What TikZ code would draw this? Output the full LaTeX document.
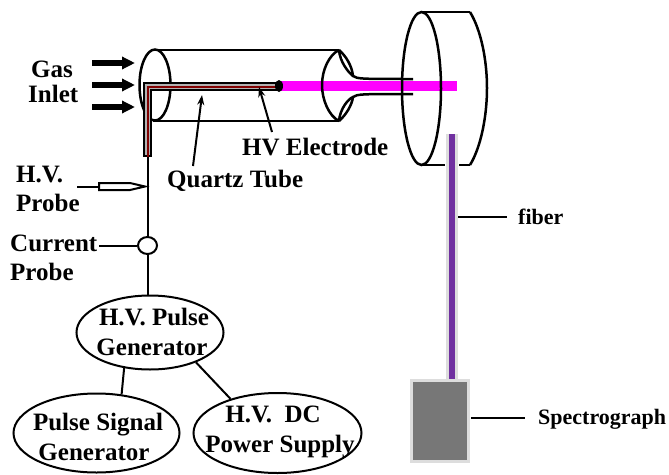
\documentclass[tikz,border=0pt]{standalone}
\usepackage{fontspec}
\setmainfont{Liberation Serif}
\usepackage{xcolor}
\usetikzlibrary{shapes.geometric, arrows, arrows.meta, positioning}
\definecolor{plasma}{HTML}{FF00FF}
\definecolor{fibercore}{HTML}{7030A0}
\definecolor{fiberclad}{HTML}{DDDDDD}
\definecolor{specfill}{HTML}{777777}
\tikzstyle{tag} = [font=\bfseries\fontsize{25}{29}\selectfont, inner sep=0pt, anchor=base west]
\tikzstyle{smalltag} = [font=\bfseries\fontsize{22}{24}\selectfont, inner sep=0pt, anchor=base west]
\tikzstyle{unit} = [ellipse, 
draw=black, 
line width=2pt, 
inner sep=0pt]
\tikzstyle{unittext} = [font=\bfseries\fontsize{25}{29}\selectfont, inner sep=0pt, anchor=base]
\tikzstyle{wire} = [line width=2pt]
\tikzstyle{glass} = [line width=2.5pt]
\tikzstyle{arrow} = [line width=2pt,-{Stealth[length=10pt,width=7pt]}]
\tikzstyle{gasarrow} = [line width=6pt,-{Triangle[length=13pt,width=12pt]}]

\begin{document}
\begin{tikzpicture}[x=1pt, y=-1pt]
        \useasboundingbox (0,0) rectangle (669,474);

        % --- Plasma ---
        \fill [plasma] (280,81) rectangle (457,91);

        % --- Discharge tube ---
        \draw [glass] (155,85) ellipse [x radius=15.5, y radius=35.5];
        \draw [glass] (153,50) -- (339,50);
        \draw [glass] (153,121) -- (339,121);
        \draw [glass] (339,50) .. controls (329,55) and (322,70) .. (322,85) .. controls (322,100) and (329,116) .. (339,121);
        % horn of the tube
        \draw [glass] (339,50) .. controls (346,56) and (352,66) .. (353,76);
        \draw [glass] (339,50) .. controls (340,62) and (348,72) .. (353,76) .. controls (357,79) and (362,79) .. (413,79);
        \draw [glass] (339,121) .. controls (346,115) and (352,105) .. (353,97);
        \draw [glass] (339,121) .. controls (340,109) and (348,99) .. (353,97) .. controls (357,94) and (362,94) .. (413,94);

        % --- Disk ---
        \draw [glass] (421.5,88.5) ellipse [x radius=19.5, y radius=76.5];
        \draw [glass] (421,12) -- (470,12);
        \draw [glass] (422,165) -- (470,165);
        \draw [glass] (470,12) .. controls (481,30) and (487,60) .. (487,88) .. controls (487,116) and (481,147) .. (470,165);

        % --- Fiber ---
        \node (spec) [rectangle, draw=fiberclad, fill=specfill, line width=3pt, minimum width=57pt, minimum height=81pt, inner sep=0pt] at (440,421) {};
        \coordinate (fibertop) at (452,134);
        \draw [white, line width=14pt] (452,160) -- (452,170);
        \draw [fiberclad, line width=12pt] (fibertop) -- (452,382);
        \draw [fibercore, line width=6pt] (fibertop) -- (452,379);

        % --- Electrode ---
        \coordinate (tubetip) at (147.5,157);
        \draw [line width=9.5pt, black, line join=miter] (279,86.5) -- (147.5,86.5) -- (tubetip);
        \draw [line width=5pt, gray!60] (277,86.5) -- (147.5,86.5) -- (147.5,155);
        \draw [line width=2pt, red!50!black] (277,86.5) -- (147.5,86.5) -- (147.5,165);
        \fill [black] (279,86) ellipse [x radius=4, y radius=6];

        % --- Gas ---
        \foreach \y in {63,85,107} {
            \coordinate (gasfrom) at (92,\y);
            \coordinate (gasto) at (135,\y);
            \draw [gasarrow] (gasfrom) -- (gasto);
        }

        % --- Labels ---
        \node (gas) [tag] at (31,77) {Gas};
        \node (inlet) [tag] at (28,102) {Inlet};
        \node (electrode) [tag] at (242,155) {HV Electrode};
        \node (quartz) [tag] at (167,187) {Quartz Tube};
        \node (hv) [tag] at (16,182) {H.V.};
        \node (hvprobe) [tag] at (16,211) {Probe};
        \node (current) [tag] at (10,251) {Current};
        \node (currentprobe) [tag] at (10,280) {Probe};
        \node (fiberlabel) [smalltag] at (518,224) {fiber};
        \node (speclabel) [smalltag] at (538,424) {Spectrograph};

        % --- Generators ---
        \node (pulse) [unit, minimum width=147pt, minimum height=74pt] at (150,332.5) {};
        \node (signal) [unit, minimum width=166pt, minimum height=79pt] at (96.5,433) {};
        \node (dc) [unit, minimum width=168pt, minimum height=80pt] at (277.5,433) {};
        \node (pulse1) [unittext] at (154,325) {H.V. Pulse};
        \node (pulse2) [unittext] at (152,355) {Generator};
        \node (signal1) [unittext] at (98,430) {Pulse Signal};
        \node (signal2) [unittext] at (94,460) {Generator};
        \node (dc1) [unittext] at (273,422) {H.V.\ \ DC};
        \node (dc2) [unittext] at (280,452) {Power Supply};
        \node (sensor) [ellipse, draw=black, wire, minimum width=19pt, minimum height=17pt, inner sep=0pt] at (147.5,245.5) {};

        % --- Connections ---
        \draw [wire] (tubetip) -- (sensor);
        \draw [wire] (sensor) -- (sensor |- pulse.north);
        \draw [wire] (current.east |- sensor) ++(2,0) -- (sensor);
        \draw [wire] (pulse.234) -- (signal.57);
        \draw [wire] (pulse.-33) -- (dc.144);

        % --- Probe ---
        \coordinate (probetip) at (145,186.5);
        \coordinate (probetail) at (77,186.5);
        \draw [wire] (probetail) -- (99,186.5);
        \draw [wire, fill=white] (99,183) -- (130,183) -- (probetip) -- (130,190) -- (99,190) -- cycle;

        % --- Pointers ---
        \coordinate (quartztail) at (193,166);
        \coordinate (quartzhead) at (202,95);
        \draw [arrow] (quartztail) -- (quartzhead);
        \coordinate (electrodetail) at (272,132);
        \coordinate (electrodehead) at (259,87);
        \draw [arrow] (electrodetail) -- (electrodehead);
        \coordinate (fiberstart) at (458,217);
        \coordinate (fiberend) at (507,217);
        \draw [wire] (fiberstart) -- (fiberend);
        \coordinate (specstart) at (471,418);
        \coordinate (specend) at (525,418);
        \draw [wire] (specstart) -- (specend);

\end{tikzpicture}
\end{document}
